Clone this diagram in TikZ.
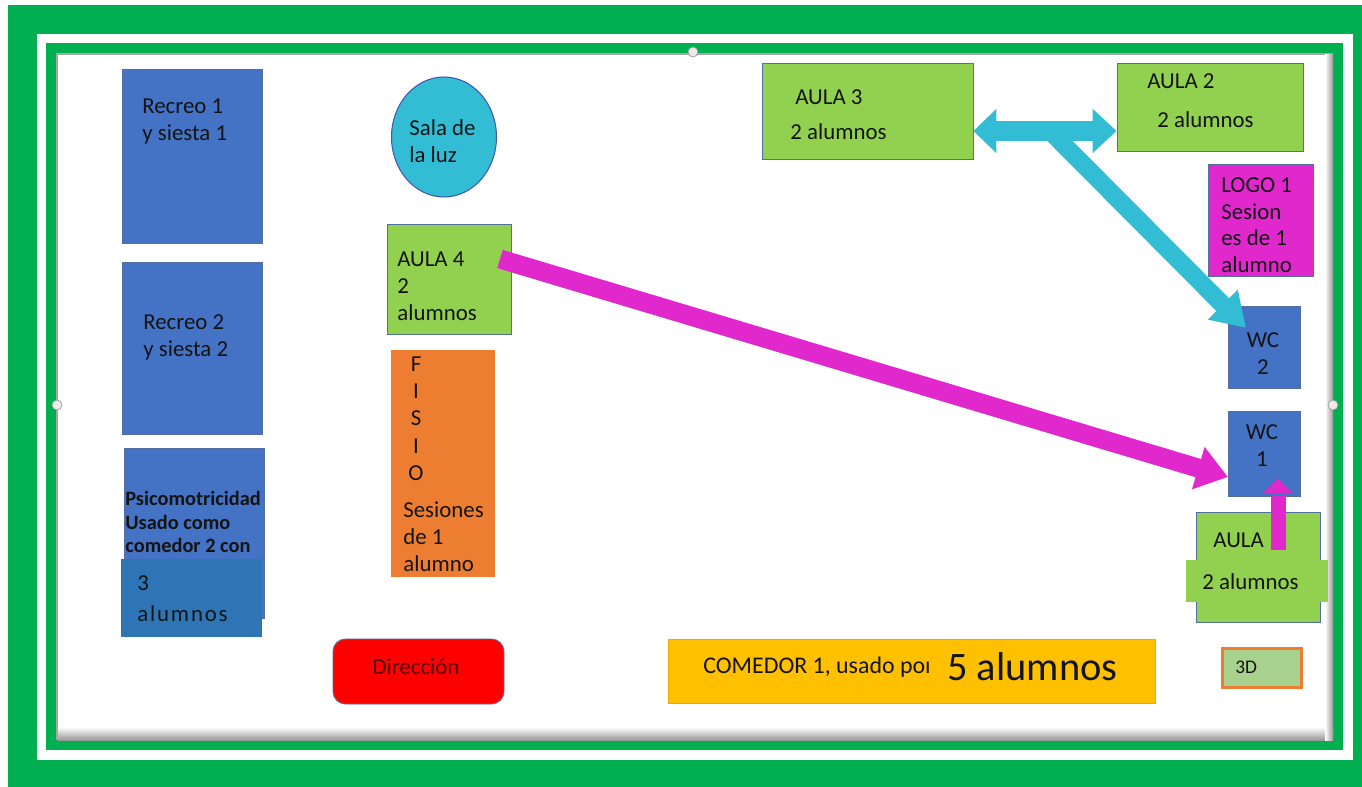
\documentclass[tikz,border=0pt]{standalone}
\usepackage{fontspec}
\setmainfont{Carlito}
\usetikzlibrary{fit,arrows.meta,shapes.geometric}
\definecolor{verde}{RGB}{0,176,80}
\definecolor{azul}{RGB}{68,114,196}
\definecolor{azulb}{RGB}{46,117,182}
\definecolor{cian}{RGB}{50,189,212}
\definecolor{verdeaula}{RGB}{146,208,80}
\definecolor{magenta2}{RGB}{225,40,205}
\definecolor{naranja}{RGB}{237,125,49}
\definecolor{amarillo}{RGB}{255,192,0}
\definecolor{verde3d}{RGB}{169,209,142}
\definecolor{borde}{RGB}{84,110,160}
\definecolor{rojoosc}{RGB}{85,0,0}
\begin{document}
\begin{tikzpicture}[x=0.02cm,y=-0.02cm,
  sala/.style={draw=borde,line width=0.5pt,inner sep=0pt},
  txt/.style={inner sep=0pt,anchor=north west,align=left,text=black!92,
    font=\fontsize{13}{15.6}\selectfont},
  flecha/.style={line width=#1,line join=miter}]
\useasboundingbox (0,0) rectangle (1362,787);
% marco
\fill [verde] (8,5) rectangle (1362,787);
\fill [white] (37,34) rectangle (1353,760);
\fill [verde] (46,43) rectangle (1343,750);
\fill [gray!70] (56,53) rectangle (1333,740);
\fill [white] (58,55) rectangle (1325,727);
\shade [top color=white,bottom color=gray!80] (58,727) rectangle (1333,740);
\shade [left color=white,right color=gray!80] (1325,55) rectangle (1333,740);
\draw [gray!80,fill=gray!15] (693,52) circle (5);
\draw [gray!80,fill=gray!15] (57,405) circle (5);
\draw [gray!80,fill=gray!15] (1333,405) circle (5);
% salas izquierda
\node [sala,fill=azul,fit={(122,69) (262,243)}] (recreo1) {};
\node [txt] (t-recreo1) at (142,98) {Recreo 1\\y siesta 1};
\node [sala,fill=azul,fit={(122,262) (262,434)}] (recreo2) {};
\node [txt] (t-recreo2) at (143,314) {Recreo 2\\ y siesta 2};
\node [sala,fill=azul,fit={(124,448) (264,618)}] (psico) {};
\node [txt,font=\fontsize{11.6}{13.3}\bfseries] (t-psico) at (125,491)
  {Psicomotricidad\\Usado como\\comedor 2 con};
\node [inner sep=0pt,fill=azulb,fit={(121,559) (262,637)}] (psicob) {};
\node [txt,font=\fontsize{13}{18}\addfontfeatures{LetterSpace=8}] (t-psicob) at (137,575) {3\\alumnos};
% centro
\node [draw=borde!80!blue,line width=0.6pt,fill=cian,ellipse,minimum width=2.1cm,
  minimum height=2.4cm,inner sep=0pt] (luz) at (444,137) {};
\node [txt] (t-luz) at (409,119) {Sala de\\la luz};
\node [sala,fill=verdeaula,fit={(387,224) (511,334)}] (aula4) {};
\node [txt] (t-aula4) at (397,251) {AULA 4\\2\\alumnos};
\node [sala,draw=naranja,fill=naranja,fit={(391,350) (494,576)}] (fisio) {};
\node [txt,align=center,anchor=north,font=\fontsize{13}{15.6}\selectfont] (t-fisio) at (416,356) {F\\I\\S\\I\\O};
\node [txt] (t-sesiones) at (403,501) {Sesiones\\de 1\\alumno};
\node [sala,fill=red,rounded corners=0.25cm,fit={(333,639) (504,704)}] (direccion) {};
\node [txt,anchor=center,text=rojoosc] (t-direccion) at (416,667) {Dirección};
\node [sala,draw=amarillo!90!black,fill=amarillo,fit={(668,639) (1155,703)}] (comedor) {};
\node [txt,anchor=west,font=\fontsize{13.6}{16}\selectfont] (t-comedor) at (703,667) {COMEDOR 1, usado poı};
\node [txt,anchor=west,font=\fontsize{23}{27}\selectfont] (t-cinco) at (947,667) {5 alumnos};
% derecha
\node [sala,fill=verdeaula,fit={(762,63) (973,159)}] (aula3) {};
\node [txt] (t-aula3) at (795,89) {AULA 3};
\node [txt] (t-aula3b) at (790,123) {2 alumnos};
\node [sala,fill=verdeaula,fit={(1117,63) (1303,151)}] (aula2) {};
\node [txt] (t-aula2) at (1147,73) {AULA 2};
\node [txt] (t-aula2b) at (1157,111) {2 alumnos};
\node [sala,fill=magenta2,fit={(1208,164) (1313,276)}] (logo1) {};
\node [txt,font=\fontsize{13}{15.3}\selectfont] (t-logo1) at (1221,177) {LOGO 1\\Sesion\\es de 1\\alumno};
\node [sala,fill=azul,fit={(1228,306) (1300,388)}] (wc2) {};
\node [txt,anchor=north,align=center] (t-wc2) at (1263,332) {WC\\2};
\node [sala,fill=azul,fit={(1228,411) (1300,496)}] (wc1) {};
\node [txt,anchor=north,align=center] (t-wc1) at (1262,424) {WC\\1};
\node [sala,fill=verdeaula,fit={(1196,512) (1320,622)}] (aula1) {};
\node [inner sep=0pt,fill=verdeaula,fit={(1186,560) (1328,602)}] (aula1b) {};
\node [txt] (t-aula1) at (1213,532) {AULA};
\node [txt] (t-aula1b) at (1202,573) {2 alumnos};
\node [sala,draw=naranja,line width=0.06cm,fill=verde3d,fit={(1222,648) (1301,687)}] (tresd) {};
\node [txt,anchor=west,font=\fontsize{11}{13}\selectfont] (t-tresd) at (1235,667) {3D};
% flechas
\coordinate (cruce) at (1053,134);
\coordinate (pico2) at (1246,328);
\coordinate (inicio4) at (500,259);
\coordinate (pico1) at (1228,477);
\coordinate (inicio1) at (1278,550);
\draw [flecha=0.4cm,cian,{Triangle[width=0.86cm,length=0.46cm]}-{Triangle[width=0.86cm,length=0.48cm]}]
  (aula3.east |- 0,131) -- (aula2.west |- 0,131);
\draw [flecha=0.36cm,cian,-{Triangle[width=0.8cm,length=0.66cm]}] (cruce) -- (pico2);
\draw [flecha=0.38cm,magenta2,-{Triangle[width=0.84cm,length=0.62cm]}] (inicio4) -- (pico1);
\draw [flecha=0.3cm,magenta2,-{Triangle[width=0.58cm,length=0.3cm]}] (inicio1) -- (inicio1 |- wc1.south) ++(0,-18) coordinate (pico3);
\end{tikzpicture}
\end{document}
